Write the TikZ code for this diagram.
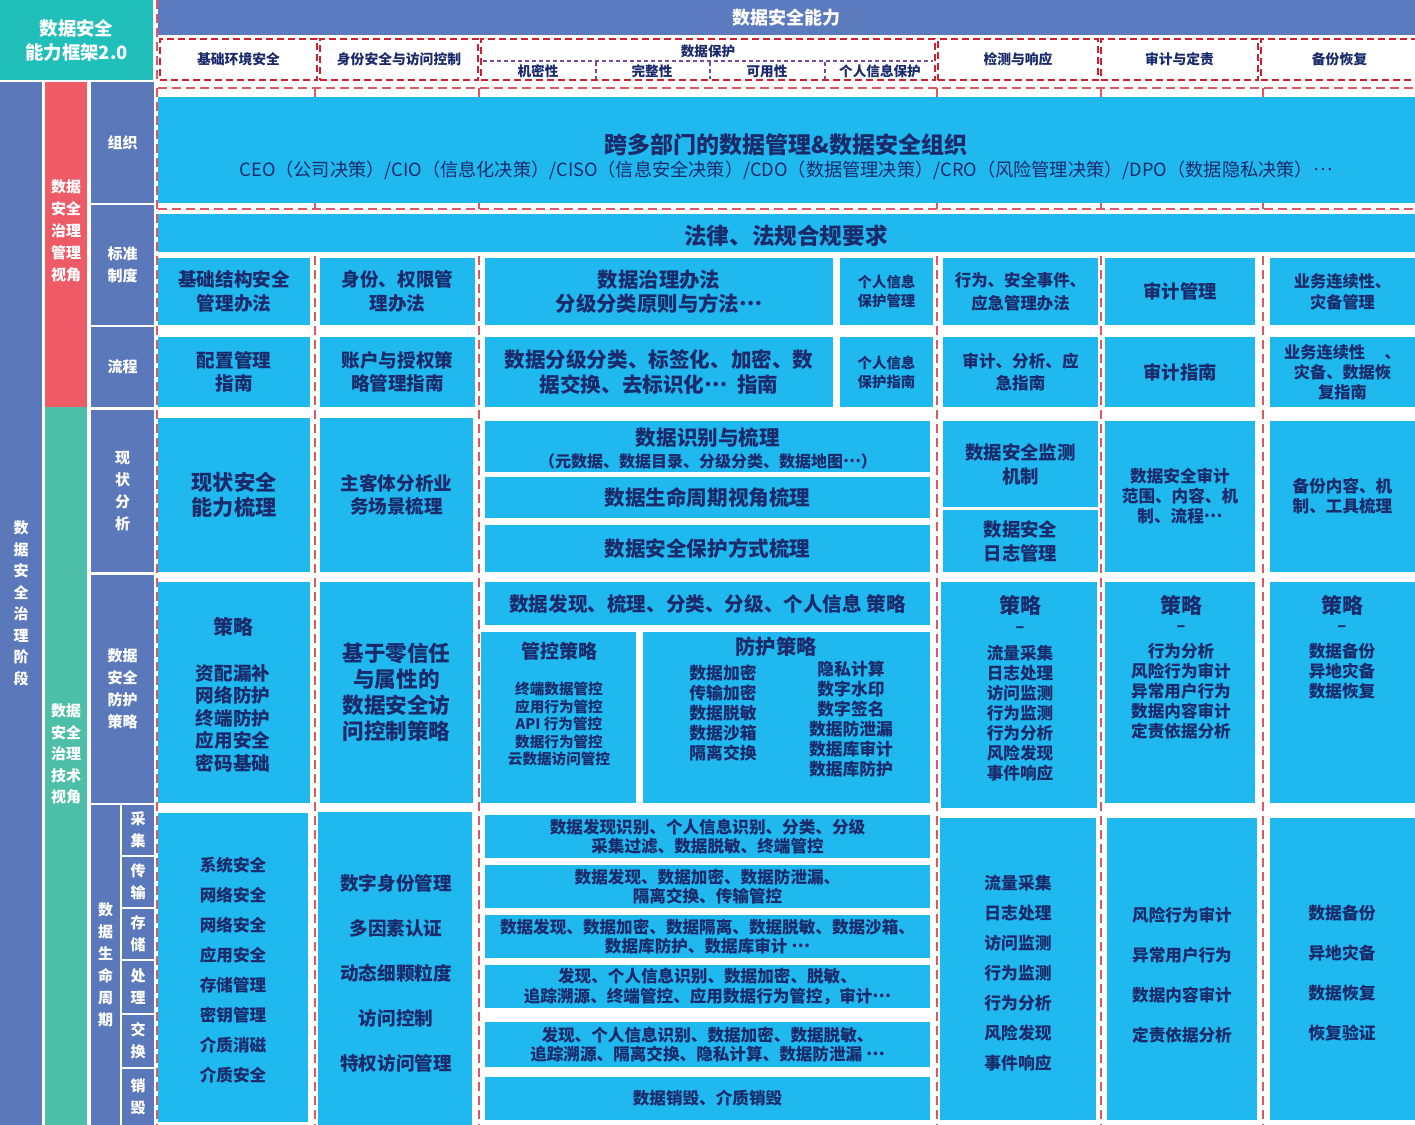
\documentclass[tikz,border=0pt]{standalone}
\usepackage{fontspec}
\setmainfont{Noto Sans CJK SC}
\definecolor{bblue}{HTML}{1FB8EF}
\definecolor{navy}{HTML}{1B2A6B}
\definecolor{lblue}{HTML}{5B79BA}
\definecolor{lred}{HTML}{EE5A66}
\definecolor{lteal}{HTML}{4DBFA8}
\definecolor{tlteal}{HTML}{20BFB9}
\definecolor{hdr}{HTML}{5B7BBE}
\definecolor{dred}{HTML}{D0202E}
\definecolor{purp}{HTML}{7A4A9A}
\newcommand\dts{\raisebox{0.3em}{…}}
\newcommand\bx[9][]{%
  \pgfmathsetmacro\bw{(#5-#3)*0.5}%
  \pgfmathsetmacro\bh{(#6-#4)*0.5}%
  \pgfmathsetmacro\bls{#8*0.5}%
  \node[bbox,minimum width=\bw pt,minimum height=\bh pt,font={\fontsize{#7pt}{\bls pt}\selectfont\bfseries},#1] (#2) at ({(#3+#5)/2},{(#4+#6)/2}) {#9};}
\newcommand\tx[7][]{%
  \pgfmathsetmacro\bls{#6*0.5}%
  \node[tnode,font={\fontsize{#5pt}{\bls pt}\selectfont\bfseries},#1] (#2) at (#3,#4) {#7};}
\begin{document}
\begin{tikzpicture}[x=0.5pt,y=-0.5pt,
  bbox/.style={fill=bblue,text=navy,inner sep=0pt,outer sep=0pt,align=center,draw=none},
  tnode/.style={inner sep=0pt,align=center,text=navy},
  lb/.style={fill=lblue,text=white},
  hbox/.style={fill=white,draw=dred,dash pattern=on 3.5pt off 2pt,line width=0.9pt},
  sep/.style={draw=dred!75,dash pattern=on 4.5pt off 2.5pt,line width=0.9pt},
  pdash/.style={draw=purp,dash pattern=on 2pt off 1.5pt,line width=0.6pt}]
\useasboundingbox (0,0) rectangle (1415,1125);
% separators
\foreach \sx in {157,315,479,937,1101,1263} \draw[sep] (\sx,88) -- (\sx,1125);
\draw[sep] (158,88) -- (1415,88);
\draw[sep] (158,209) -- (1415,209);
% top
\bx[fill=tlteal,text=white]{fw}{0}{0}{153}{80}{9.2}{24}{数据安全\\能力框架2.0}
\draw[sep] (157,0) -- (157,80);
\bx[fill=hdr,text=white]{cap}{158}{0}{1415}{35}{9}{18}{数据安全能力}
\bx[hbox]{h1}{160}{39}{317}{80}{6.9}{14}{基础环境安全}
\bx[hbox]{h2}{320}{39}{478}{80}{6.9}{14}{身份安全与访问控制}
\bx[hbox]{h3}{481}{39}{935}{80}{6.9}{14}{}
\tx{h3t}{708}{51}{6.8}{14}{数据保护}
\draw[pdash] (483,61) -- (933,61);
\foreach \dx in {596,710,825} \draw[pdash] (\dx,62) -- (\dx,79);
\tx{h3a}{538}{71}{6.8}{14}{机密性}
\tx{h3b}{652}{71}{6.8}{14}{完整性}
\tx{h3c}{767}{71}{6.8}{14}{可用性}
\tx{h3d}{880}{71}{6.8}{14}{个人信息保护}
\bx[hbox]{h4}{938}{39}{1098}{80}{6.9}{14}{检测与响应}
\bx[hbox]{h5}{1101}{39}{1258}{80}{6.9}{14}{审计与定责}
\bx[hbox]{h6}{1261}{39}{1418}{80}{6.9}{14}{备份恢复}
% left columns
\bx[lb]{c1}{0}{82}{42}{1125}{7.5}{21.5}{数\\据\\安\\全\\治\\理\\阶\\段}
\bx[fill=lred]{c2a}{45}{82}{87}{407}{7.5}{22}{}
\tx[text=white]{c2at}{66}{231}{7.5}{22}{数据\\安全\\治理\\管理\\视角}
\bx[fill=lteal]{c2b}{45}{407}{87}{1125}{7.5}{22}{}
\tx[text=white]{c2bt}{66}{754}{7.5}{21.5}{数据\\安全\\治理\\技术\\视角}
\bx[lb]{c3a}{91}{82}{154}{203}{7.5}{22}{组织}
\bx[lb]{c3b}{91}{205}{154}{325}{7.5}{22}{标准\\制度}
\bx[lb]{c3c}{91}{327}{154}{407}{7.5}{22}{流程}
\bx[lb]{c3d}{91}{410}{154}{572}{7.5}{22}{现\\状\\分\\析}
\bx[lb]{c3e}{91}{575}{154}{803}{7.5}{22}{数据\\安全\\防护\\策略}
\bx[lb]{c3f}{91}{805}{120}{1125}{7.5}{22}{数\\据\\生\\命\\周\\期}
\bx[lb]{s1}{122}{805}{154}{855}{7.5}{22}{采\\集}
\bx[lb]{s2}{122}{857}{154}{907}{7.5}{22}{传\\输}
\bx[lb]{s3}{122}{909}{154}{959}{7.5}{22}{存\\储}
\bx[lb]{s4}{122}{961}{154}{1013}{7.5}{22}{处\\理}
\bx[lb]{s5}{122}{1015}{154}{1067}{7.5}{22}{交\\换}
\bx[lb]{s6}{122}{1069}{154}{1125}{7.5}{22}{销\\毁}
% organisation
\bx{org}{158}{97}{1415}{203}{11.5}{24}{}
\tx{orgt}{786}{145}{11.5}{24}{跨多部门的数据管理\&数据安全组织}
\tx[font={\fontsize{9.1pt}{12pt}\selectfont}]{ceo}{786}{170}{9.1}{18}{CEO（公司决策）/CIO（信息化决策）/CISO（信息安全决策）/CDO（数据管理决策）/CRO（风险管理决策）/DPO（数据隐私决策）\dts}
% law
\bx{law}{158}{214}{1415}{252}{11.3}{24}{}
\tx{lawt}{786}{236}{11.3}{24}{法律、法规合规要求}
% standards
\bx{st1}{158}{258}{310}{325}{9.3}{24}{基础结构安全\\管理办法}
\bx{st2}{320}{258}{475}{325}{9.3}{24}{身份、权限管\\理办法}
\bx{st3}{485}{258}{833}{325}{10.2}{24}{数据治理办法\\分级分类原则与方法\dts}
\bx{st4}{840}{258}{933}{325}{7.2}{19}{个人信息\\保护管理}
\bx{st5}{943}{258}{1098}{325}{8.2}{23}{行为、安全事件、\\应急管理办法}
\bx{st6}{1105}{258}{1255}{325}{9.2}{22}{审计管理}
\bx{st7}{1270}{258}{1415}{325}{8.1}{21}{业务连续性、\\灾备管理}
% process
\bx{pr1}{158}{337}{310}{407}{9.3}{23}{配置管理\\指南}
\bx{pr2}{320}{337}{475}{407}{9.3}{23}{账户与授权策\\略管理指南}
\bx{pr3}{485}{337}{833}{407}{10.3}{25}{数据分级分类、标签化、加密、数\\据交换、去标识化\dts\ \ 指南}
\bx{pr4}{840}{337}{933}{407}{7.2}{19}{个人信息\\保护指南}
\bx{pr5}{943}{337}{1098}{407}{8.3}{22}{审计、分析、应\\急指南}
\bx{pr6}{1105}{337}{1255}{407}{9.2}{22}{审计指南}
\bx{pr7}{1270}{337}{1415}{407}{8.1}{20}{业务连续性\hspace{1.2em}、\\灾备、数据恢\\复指南}
% status analysis
\bx{sa1}{158}{418}{310}{572}{10.6}{25}{现状安全\\能力梳理}
\bx{sa2}{320}{418}{473}{572}{9.3}{23}{主客体分析业\\务场景梳理}
\bx{sa3}{485}{421}{930}{472}{10.3}{24}{}
\tx{sa3a}{708}{438}{10.3}{24}{数据识别与梳理}
\tx{sa3b}{708}{461}{8}{18}{（元数据、数据目录、分级分类、数据地图\dts）}
\bx{sa4}{485}{477}{930}{518}{10.3}{24}{数据生命周期视角梳理}
\bx{sa5}{485}{525}{930}{572}{10.3}{24}{数据安全保护方式梳理}
\bx{sa6}{943}{421}{1098}{507}{9.2}{24}{数据安全监测\\机制}
\bx{sa7}{943}{510}{1098}{572}{9.2}{24}{数据安全\\日志管理}
\bx{sa8}{1105}{421}{1255}{572}{8.3}{20}{数据安全审计\\范围、内容、机\\制、流程\dts}
\bx{sa9}{1270}{421}{1415}{572}{8.3}{20}{备份内容、机\\制、工具梳理}
% protection strategy
\bx{ps1}{158}{582}{310}{803}{10}{22}{}
\tx{ps1a}{233}{627}{10}{22}{策略}
\tx{ps1b}{233}{718}{9.3}{22.5}{资配漏补\\网络防护\\终端防护\\应用安全\\密码基础}
\bx{ps2}{320}{582}{473}{803}{10.8}{26}{基于零信任\\与属性的\\数据安全访\\问控制策略}
\bx{ps3}{485}{582}{930}{625}{9.8}{22}{数据发现、梳理、分类、分级、个人信息 策略}
\bx{ps4}{481}{632}{636}{803}{9.5}{22}{}
\tx{ps4a}{559}{651}{9.5}{22}{管控策略}
\tx{ps4b}{559}{724}{7.3}{17.5}{终端数据管控\\应用行为管控\\API 行为管控\\数据行为管控\\云数据访问管控}
\bx{ps5}{643}{632}{930}{803}{10.2}{22}{}
\tx{ps5a}{776}{647}{10.2}{22}{防护策略}
\tx{ps5b}{723}{713}{8.4}{20}{数据加密\\传输加密\\数据脱敏\\数据沙箱\\隔离交换}
\tx{ps5c}{851}{719}{8.4}{20}{隐私计算\\数字水印\\数字签名\\数据防泄漏\\数据库审计\\数据库防护}
\bx{ps6}{941}{582}{1097}{808}{10.5}{22}{}
\tx{ps6a}{1020}{605}{10.5}{22}{策略}
\tx{ps6b}{1020}{630}{8.3}{20}{–}
\tx{ps6c}{1020}{713}{8.3}{20}{流量采集\\日志处理\\访问监测\\行为监测\\行为分析\\风险发现\\事件响应}
\bx{ps7}{1105}{582}{1255}{803}{10.5}{22}{}
\tx{ps7a}{1181}{605}{10.5}{22}{策略}
\tx{ps7b}{1181}{629}{8.3}{20}{–}
\tx{ps7c}{1181}{691}{8.3}{20}{行为分析\\风险行为审计\\异常用户行为\\数据内容审计\\定责依据分析}
\bx{ps8}{1270}{582}{1415}{803}{10.5}{22}{}
\tx{ps8a}{1342}{605}{10.5}{22}{策略}
\tx{ps8b}{1342}{629}{8.3}{20}{–}
\tx{ps8c}{1342}{671}{8.3}{20}{数据备份\\异地灾备\\数据恢复}
% lifecycle
\bx{lc1}{158}{813}{308}{1122}{8.3}{30}{}
\tx{lc1t}{233}{970}{8.3}{30}{系统安全\\网络安全\\网络安全\\应用安全\\存储管理\\密钥管理\\介质消磁\\介质安全}
\bx{lc2}{318}{812}{472}{1125}{9.3}{45}{}
\tx{lc2t}{396}{973}{9.3}{45}{数字身份管理\\多因素认证\\动态细颗粒度\\访问控制\\特权访问管理}
\bx{lc3}{485}{815}{930}{858}{8.3}{19.5}{数据发现识别、个人信息识别、分类、分级\\采集过滤、数据脱敏、终端管控}
\bx{lc4}{485}{865}{930}{908}{8.3}{19.5}{数据发现、数据加密、数据防泄漏、\\隔离交换、传输管控}
\bx{lc5}{485}{915}{930}{958}{8.3}{19.5}{数据发现、数据加密、数据隔离、数据脱敏、数据沙箱、\\数据库防护、数据库审计 \dts}
\bx{lc6}{485}{965}{930}{1008}{8.3}{19.5}{发现、个人信息识别、数据加密、脱敏、\\追踪溯源、终端管控、应用数据行为管控，审计\dts}
\bx{lc7}{485}{1022}{930}{1067}{8.3}{19.5}{发现、个人信息识别、数据加密、数据脱敏、\\追踪溯源、隔离交换、隐私计算、数据防泄漏 \dts}
\bx{lc8}{485}{1077}{930}{1120}{8.3}{19.5}{数据销毁、介质销毁}
\bx{lc9}{940}{818}{1096}{1120}{8.4}{30}{}
\tx{lc9t}{1018}{973}{8.4}{30}{流量采集\\日志处理\\访问监测\\行为监测\\行为分析\\风险发现\\事件响应}
\bx{lc10}{1107}{818}{1257}{1120}{8.3}{40}{}
\tx{lc10t}{1182}{975}{8.3}{40}{风险行为审计\\异常用户行为\\数据内容审计\\定责依据分析}
\bx{lc11}{1270}{818}{1415}{1120}{8.4}{40}{}
\tx{lc11t}{1342}{973}{8.4}{40}{数据备份\\异地灾备\\数据恢复\\恢复验证}
\end{tikzpicture}
\end{document}
